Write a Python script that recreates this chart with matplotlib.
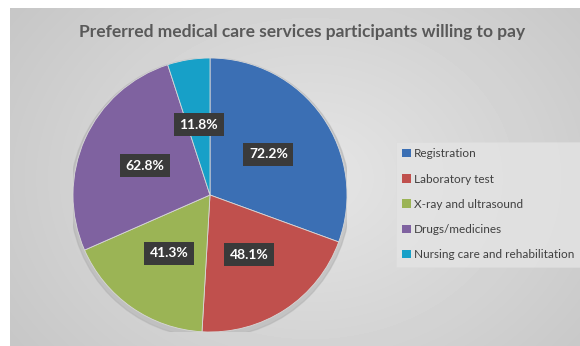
import numpy as np
import matplotlib
matplotlib.use('Agg')
import matplotlib.pyplot as plt

title = 'Preferred medical care services participants willing to pay'
labels = ['Registration', 'Laboratory test', 'X-ray and ultrasound',
          'Drugs/medicines', 'Nursing care and rehabilitation']
values = [72.2, 48.1, 41.3, 62.8, 11.8]
colors = ['#3b6fb4', '#c0504d', '#9bb455', '#7f62a0', '#17a0c8']

plt.rcParams['font.family'] = ['Lato', 'DejaVu Sans']

W, H = 580, 346
fig = plt.figure(figsize=(W / 100, H / 100), dpi=100)
fig.patch.set_facecolor('white')

# gray radial background panel
bg = fig.add_axes([10 / W, 0, 570 / W, 338 / H])
yy, xx = np.mgrid[0:338, 0:570]
d = np.sqrt(((xx - 300) / 330.0) ** 2 + ((yy - 170) / 260.0) ** 2)
shade = 0.90 - 0.11 * np.clip(d, 0, 1.3)
bg.imshow(shade, cmap='gray', vmin=0, vmax=1, aspect='auto', interpolation='bilinear')
bg.axis('off')

fig.text(302 / W, 1 - 32 / H, title, ha='center', va='center',
         fontsize=12.5, fontweight='bold', color='#595959')

# pie
R = 137
cx, cy = 210, 195
ax = fig.add_axes([(cx - R) / W, (H - cy - R) / H, 2 * R / W, 2 * R / H])
shadow = plt.Circle((0.0, -0.02), 1.02, color='#b0b0b0', alpha=0.5, zorder=0)
ax.add_patch(shadow)
wedges, texts, autotexts = ax.pie(
    values, colors=colors, startangle=90, counterclock=False,
    autopct=lambda p: '', pctdistance=0.52, radius=1,
    wedgeprops=dict(linewidth=0.6, edgecolor='#d8d8d8'))
for at, v in zip(autotexts, values):
    at.set_text('%.1f%%' % v)
    at.set_color('white')
    at.set_fontweight('bold')
    at.set_fontsize(10)
    at.set_bbox(dict(boxstyle='square,pad=0.4', facecolor='#3a3a3a',
                     edgecolor='none'))
ax.set_xlim(-1, 1)
ax.set_ylim(-1, 1)
ax.axis('off')

# legend
leg = fig.legend(wedges, labels, loc='upper left',
                 bbox_to_anchor=(390 / W, 1 - 136 / H),
                 frameon=True, fontsize=8.5, labelspacing=1.2,
                 handlelength=0.7, handleheight=0.7, handletextpad=0.25,
                 borderpad=0.55, fancybox=False)
leg.get_frame().set_facecolor('#e4e4e4')
leg.get_frame().set_edgecolor('#dcdcdc')
leg.get_frame().set_linewidth(0.5)
for t in leg.get_texts():
    t.set_color('#404040')
for h in leg.legend_handles:
    h.set_edgecolor('none')

fig.savefig('out.png', dpi=100)
